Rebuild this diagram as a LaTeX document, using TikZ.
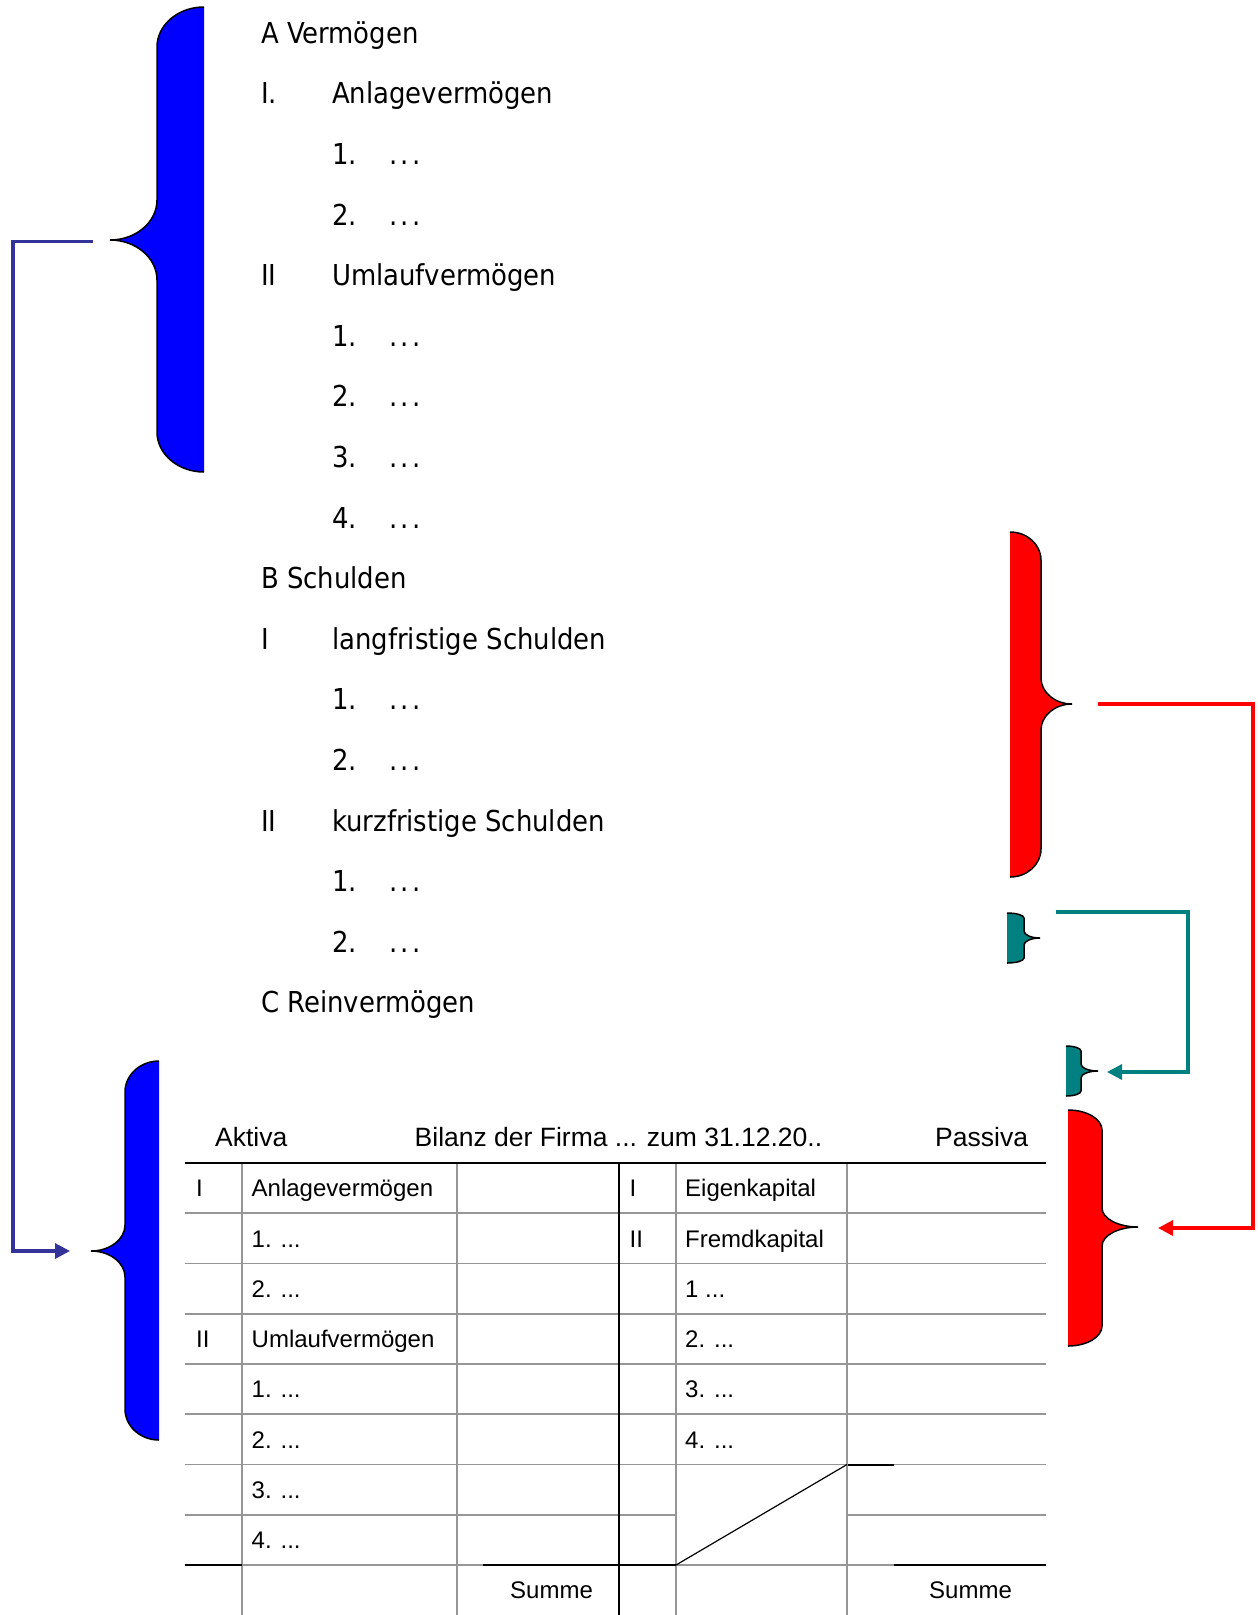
\documentclass[tikz,border=0pt]{standalone}
\usepackage{fontspec}
\setmainfont{Liberation Sans}
\newfontfamily\tahoma{DejaVu Sans Condensed}
\usetikzlibrary{arrows.meta}
\definecolor{bluebr}{RGB}{0,0,255}
\definecolor{redbr}{RGB}{255,0,0}
\definecolor{tealbr}{RGB}{0,128,128}
\definecolor{navyln}{RGB}{51,51,153}
\definecolor{gridgray}{RGB}{150,150,150}
% E S P T B M rc rm colour
\newcommand\drawbrace[9]{%
 \fill[#9] (#1,#4) .. controls ({#1+0.552*(#2-#1)},#4) and (#2,{#4+0.448*#7}) .. (#2,{#4+#7})
 -- (#2,{#6-#8}) .. controls (#2,{#6-0.448*#8}) and ({#3+0.552*(#2-#3)},#6) .. (#3,#6)
 .. controls ({#3+0.552*(#2-#3)},#6) and (#2,{#6+0.448*#8}) .. (#2,{#6+#8})
 -- (#2,{#5-#7}) .. controls (#2,{#5-0.448*#7}) and ({#1+0.552*(#2-#1)},#5) .. (#1,#5) -- cycle;
 \draw[black,line width=1.5pt] (#1,#4) .. controls ({#1+0.552*(#2-#1)},#4) and (#2,{#4+0.448*#7}) .. (#2,{#4+#7})
 -- (#2,{#6-#8}) .. controls (#2,{#6-0.448*#8}) and ({#3+0.552*(#2-#3)},#6) .. (#3,#6)
 .. controls ({#3+0.552*(#2-#3)},#6) and (#2,{#6+0.448*#8}) .. (#2,{#6+#8})
 -- (#2,{#5-#7}) .. controls (#2,{#5-0.448*#7}) and ({#1+0.552*(#2-#1)},#5) .. (#1,#5);}
\newcommand\dotsx{.\kern3.4pt.\kern3.4pt.}
\begin{document}
\begin{tikzpicture}[x=1pt,y=-1pt,
  tx/.style={font=\tahoma\fontsize{28.8}{32}\selectfont,anchor=base west,inner sep=0pt},
  tb/.style={font=\fontsize{24}{28}\selectfont,anchor=base west,inner sep=0pt},
  hd/.style={font=\fontsize{26.5}{30}\selectfont,anchor=base west,inner sep=0pt},
  gl/.style={draw=gridgray,line width=1.8pt},
  bk/.style={draw=black,line width=2pt},
  conn/.style={line width=3.2pt,line join=miter,-{Triangle[length=15pt,width=15pt]}}]
\useasboundingbox (0,0) rectangle (1258,1615);
\fill[white] (0,0) rectangle (1258,1615);

% ---------- braces ----------
\drawbrace{204}{157}{110}{7}{472}{240}{40}{40}{bluebr}
\drawbrace{159}{125}{91}{1061}{1440}{1251}{31}{26}{bluebr}
\drawbrace{1010}{1041}{1072}{532}{877}{704}{28}{26}{redbr}
\drawbrace{1068}{1102}{1138}{1110}{1346}{1227}{20}{19}{redbr}
\drawbrace{1007}{1024}{1040}{913}{963}{938}{5}{7}{tealbr}
\drawbrace{1066}{1081}{1098}{1046}{1096}{1071}{5}{7}{tealbr}

% ---------- connectors ----------
\coordinate (b1) at (93,241.5);
\coordinate (b2) at (13,241.5);
\coordinate (b3) at (13,1251);
\coordinate (b4) at (70,1251);
\draw[conn,navyln] (b1) -- (b2) -- (b3) -- (b4);
\coordinate (r1) at (1098,704);
\coordinate (r2) at (1253,704);
\coordinate (r3) at (1253,1228);
\coordinate (r4) at (1158,1228);
\draw[conn,redbr] (r1) -- (r2) -- (r3) -- (r4);
\coordinate (t1) at (1056,912);
\coordinate (t2) at (1188,912);
\coordinate (t3) at (1188,1072);
\coordinate (t4) at (1107,1072);
\draw[conn,tealbr] (t1) -- (t2) -- (t3) -- (t4);

% ---------- top list ----------
\node[tx] (a0) at (261,43.2) {A Vermögen};
\node[tx] (a1) at (261,103.8) {I.};
\node[tx] (a1t) at (332,103.8) {Anlagevermögen};
\node[tx] (a2) at (332,164.4) {1.};
\node[tx] (a2t) at (389,164.4) {\dotsx};
\node[tx] (a3) at (332,225.0) {2.};
\node[tx] (a3t) at (389,225.0) {\dotsx};
\node[tx] (a4) at (261,285.6) {II};
\node[tx] (a4t) at (332,285.6) {Umlaufvermögen};
\node[tx] (a5) at (332,346.2) {1.};
\node[tx] (a5t) at (389,346.2) {\dotsx};
\node[tx] (a6) at (332,406.8) {2.};
\node[tx] (a6t) at (389,406.8) {\dotsx};
\node[tx] (a7) at (332,467.4) {3.};
\node[tx] (a7t) at (389,467.4) {\dotsx};
\node[tx] (a8) at (332,528.0) {4.};
\node[tx] (a8t) at (389,528.0) {\dotsx};
\node[tx] (a9) at (261,588.6) {B Schulden};
\node[tx] (a10) at (261,649.2) {I};
\node[tx] (a10t) at (332,649.2) {langfristige Schulden};
\node[tx] (a11) at (332,709.8) {1.};
\node[tx] (a11t) at (389,709.8) {\dotsx};
\node[tx] (a12) at (332,770.4) {2.};
\node[tx] (a12t) at (389,770.4) {\dotsx};
\node[tx] (a13) at (261,831.0) {II};
\node[tx] (a13t) at (332,831.0) {kurzfristige Schulden};
\node[tx] (a14) at (332,891.6) {1.};
\node[tx] (a14t) at (389,891.6) {\dotsx};
\node[tx] (a15) at (332,952.2) {2.};
\node[tx] (a15t) at (389,952.2) {\dotsx};
\node[tx] (a16) at (261,1012.8) {C Reinvermögen};

% ---------- table ----------
\node[hd] (h1) at (215,1146.5) {Aktiva};
\node[hd] (h2) at (414.5,1146.5) {Bilanz der Firma ... zum 31.12.20..};
\node[hd] (h3) at (935,1146.5) {Passiva};

% horizontal grid lines
\foreach \i in {1,...,7} {
  \draw[gl] (184.5,{1163+50.25*\i}) -- (619,{1163+50.25*\i});
}
\foreach \i in {1,...,5} {
  \draw[gl] (619,{1163+50.25*\i}) -- (1046,{1163+50.25*\i});
}
\draw[gl] (619,1464.5) -- (847,1464.5);
\draw[bk] (847,1464.5) -- (894,1464.5);
\draw[gl] (894,1464.5) -- (1046,1464.5);
\draw[gl] (619,1514.75) -- (676,1514.75);
\draw[gl] (847,1514.75) -- (1046,1514.75);
\draw[gl] (242,1565) -- (483,1565);
\draw[gl] (676,1565) -- (894,1565);
% vertical grid lines
\foreach \x in {242,457,676,847} {
  \draw[gl] (\x,1163) -- (\x,1615);
}
\draw[bk] (184.5,1565) -- (242,1565);
\draw[bk] (483,1565) -- (676,1565);
\draw[bk] (894,1565) -- (1046,1565);
\draw[bk] (619,1163) -- (619,1615);
\draw[bk] (184.5,1163) -- (1046,1163);
\draw[black,line width=1.2pt] (676,1565) -- (847,1464.5);

% table texts
\node[tb] (c0a) at (196,1196.7) {I};
\node[tb] (c0b) at (251.5,1196.7) {Anlagevermögen};
\node[tb] (c1b) at (251.5,1247.0) {1. ...};
\node[tb] (c2b) at (251.5,1297.2) {2. ...};
\node[tb] (c3a) at (196,1347.5) {II};
\node[tb] (c3b) at (251.5,1347.5) {Umlaufvermögen};
\node[tb] (c4b) at (251.5,1397.7) {1. ...};
\node[tb] (c5b) at (251.5,1448.0) {2. ...};
\node[tb] (c6b) at (251.5,1498.2) {3. ...};
\node[tb] (c7b) at (251.5,1548.5) {4. ...};
\node[tb] (c8b) at (510,1598.7) {Summe};
\node[tb] (d0a) at (629.5,1196.7) {I};
\node[tb] (d0b) at (685,1196.7) {Eigenkapital};
\node[tb] (d1a) at (629.5,1247.0) {II};
\node[tb] (d1b) at (685,1247.0) {Fremdkapital};
\node[tb] (d2b) at (685,1297.2) {1 ...};
\node[tb] (d3b) at (685,1347.5) {2. ...};
\node[tb] (d4b) at (685,1397.7) {3. ...};
\node[tb] (d5b) at (685,1448.0) {4. ...};
\node[tb] (d8b) at (929,1598.7) {Summe};
\end{tikzpicture}
\end{document}
